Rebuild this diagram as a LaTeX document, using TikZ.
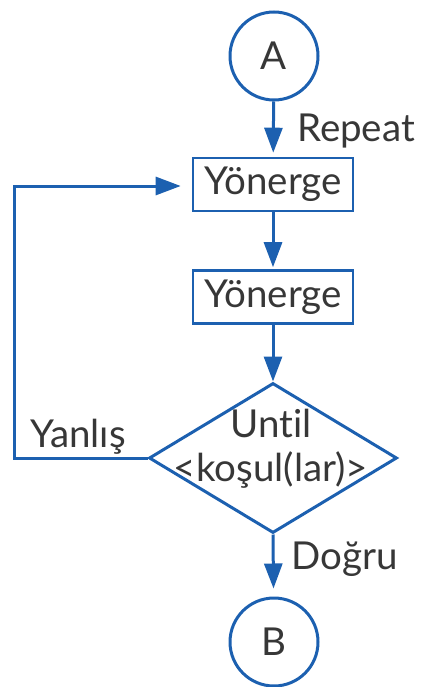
\documentclass[tikz,border=0pt]{standalone}
\usepackage{fontspec}
\setmainfont{Lato}[Ligatures=CommonOff]
\usetikzlibrary{shapes.geometric,arrows.meta}
\definecolor{flowblue}{RGB}{28,96,176}
\definecolor{inkgray}{RGB}{55,55,55}
\tikzset{
  every node/.style={font=\fontsize{38.5}{44}\selectfont, text=inkgray},
  connector/.style={circle, draw=flowblue, line width=3pt, minimum size=88pt, inner sep=0pt},
  stepbox/.style={rectangle, draw=flowblue, line width=2.6pt, minimum width=160pt, minimum height=53pt, inner sep=0pt},
  decision/.style={diamond, draw=flowblue, line width=3pt, minimum width=248pt, minimum height=150pt, inner sep=0pt},
  flow/.style={draw=flowblue, line width=3pt, -{Triangle[length=25pt,width=18pt]}},
  tag/.style={inner sep=0pt}
}
\begin{document}
\begin{tikzpicture}[x=1pt,y=-1pt]
  \useasboundingbox (0,0) rectangle (424,687);

  % start / end connectors
  \node[connector] (A) at (274,56) {A};
  \node[connector] (B) at (274,642) {B};

  % loop body
  \node[stepbox] (s1) at (273,184.5) {Yönerge};
  \node[stepbox] (s2) at (273,297) {Yönerge};

  % loop condition
  \node[decision] (cond) at (273,458) {};
  \node[align=center, inner sep=0pt] (condtext) at (271,449) {Until\\<koşul(lar)>};

  % back edge corner
  \coordinate (corner) at (14,186);

  % connectors
  \draw[flow, shorten >=4pt] (A) -- (s1);
  \draw[flow, shorten >=2pt] (s1) -- (s2);
  \draw[flow] (s2) -- (cond.north);
  \draw[flow, shorten >=8pt] (cond.south) -- (B);
  \draw[flow, shorten >=11pt] (cond.west) -| (corner) -- (s1.west |- corner);

  % labels
  \node[tag] (lrepeat) at (356,131) {Repeat};
  \node[tag] (ldogru) at (345,559) {Doğru};
  \node[tag] (lyanlis) at (78,437) {Yanlış};
\end{tikzpicture}
\end{document}
